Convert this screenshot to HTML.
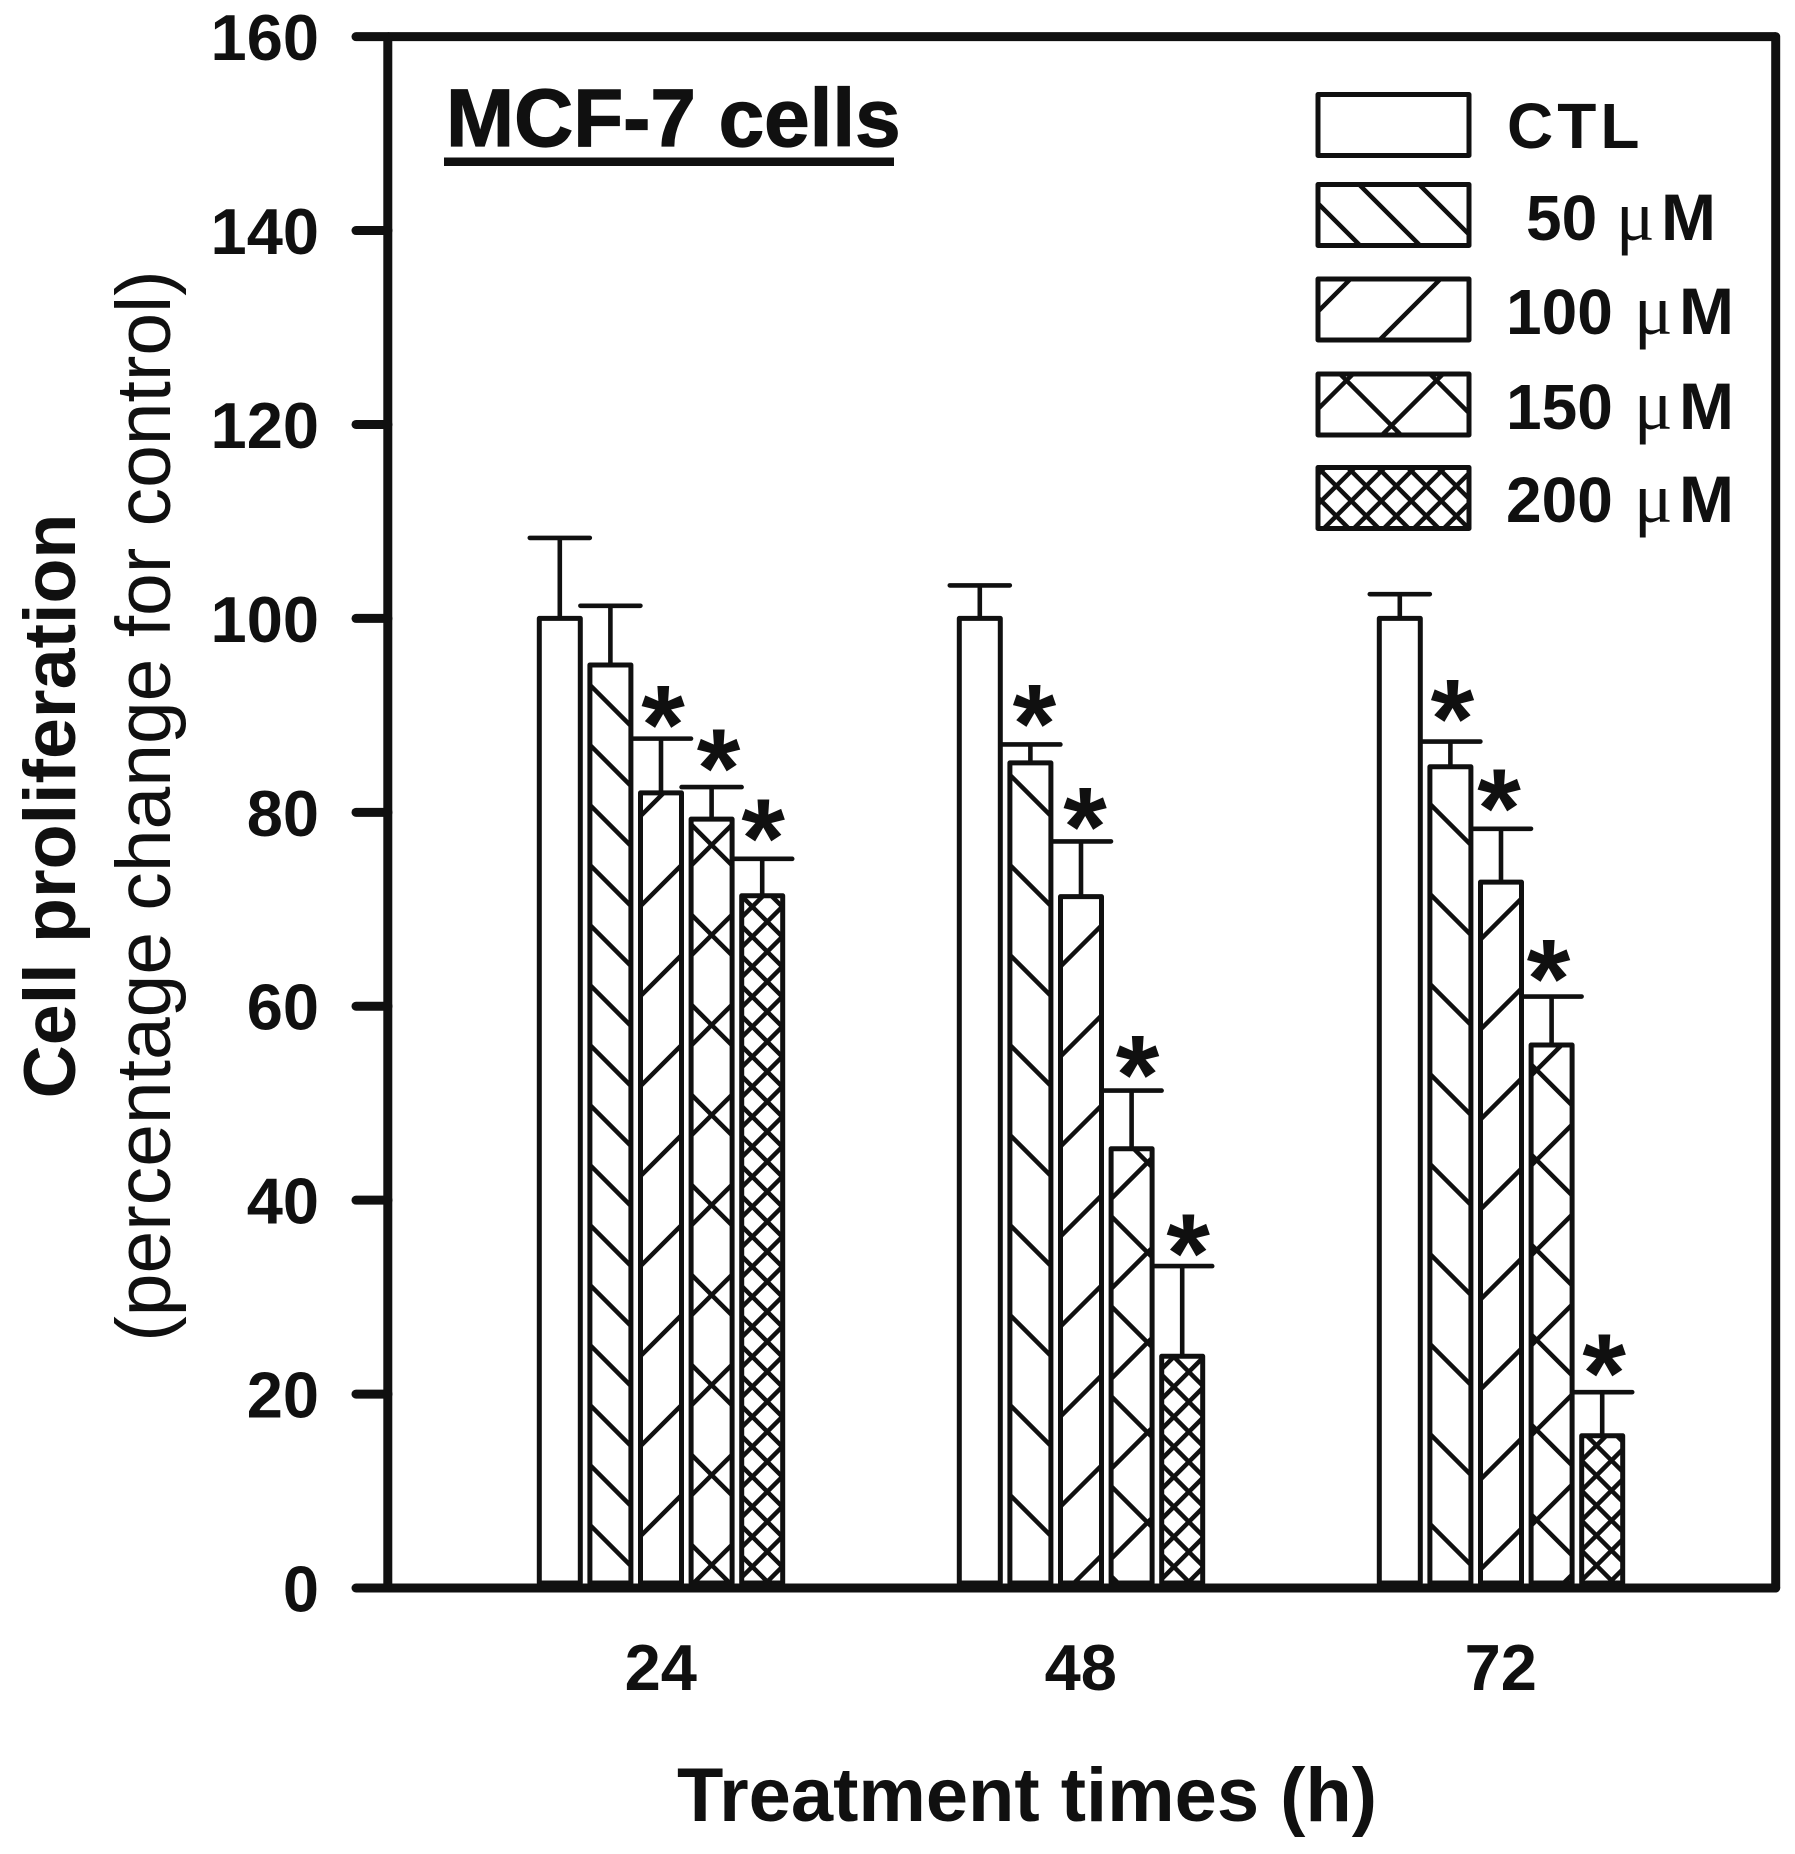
<!DOCTYPE html>
<html lang="en">
<head>
<meta charset="utf-8">
<title>MCF-7 cell proliferation</title>
<style>
html,body{margin:0;padding:0;background:#fff;}
svg{display:block;}
text{font-family:"Liberation Sans",sans-serif;fill:#101010;}
.b{font-weight:bold;}
.mu{font-family:"Liberation Serif",serif;font-weight:normal;font-size:72px;}
.m{font-size:66px;}
.leg{font-weight:bold;font-size:64px;}
</style>
</head>
<body>
<svg id="chart" xmlns="http://www.w3.org/2000/svg" width="1795" height="1854" viewBox="0 0 1795 1854">
  <defs id="defs"></defs>
  <rect x="0" y="0" width="1795" height="1854" fill="#ffffff"/>
  <g id="bars"></g>
  <g id="frame" fill="none" stroke="#101010" stroke-width="9">
    <line x1="387.8" y1="36.6" x2="387.8" y2="1588"/>
    <line x1="387.8" y1="36.6" x2="1775.7" y2="36.6"/>
    <line x1="1775.7" y1="36.6" x2="1775.7" y2="1588" stroke-linecap="round"/>
    <line x1="387.8" y1="1588" x2="1775.7" y2="1588" stroke-linecap="round"/>
  </g>
  <g id="yaxis"></g>
  <g id="xaxis"></g>

  <text class="b" x="446" y="146" font-size="81.8" stroke="#101010" stroke-width="1.2">MCF-7 cells</text>
  <rect x="444" y="157.5" width="450" height="8.5" fill="#101010"/>

  <text class="b" font-size="73.6" text-anchor="middle" transform="translate(75,806) rotate(-90)">Cell proliferation</text>
  <text font-size="76.8" text-anchor="middle" transform="translate(170,806) rotate(-90)">(percentage change for control)</text>
  <text class="b" font-size="75.9" text-anchor="middle" x="1027" y="1821">Treatment times (h)</text>

  <g id="legend">
    <g id="legend-swatches"></g>
    <text class="leg" x="1507" y="148" letter-spacing="4">CTL</text>
    <text class="leg" y="240"><tspan x="1526">50</tspan> <tspan class="mu" x="1616">μ</tspan><tspan class="m" x="1661">M</tspan></text>
    <text class="leg" y="334"><tspan x="1506">100</tspan> <tspan class="mu" x="1634">μ</tspan><tspan class="m" x="1679">M</tspan></text>
    <text class="leg" y="429"><tspan x="1506">150</tspan> <tspan class="mu" x="1634">μ</tspan><tspan class="m" x="1679">M</tspan></text>
    <text class="leg" y="522"><tspan x="1506">200</tspan> <tspan class="mu" x="1634">μ</tspan><tspan class="m" x="1679">M</tspan></text>
  </g>
</svg>
<script>
// ---- chart data ----
const categories = ['24', '48', '72'];
const yTicks = [0, 20, 40, 60, 80, 100, 120, 140, 160];
const seriesNames = ['ctl', '50um', '100um', '150um', '200um'];
const valuesCTL = [100, 100, 100];
const values50 = [95.2, 85.1, 84.7];
const values100 = [82, 71.3, 72.8];
const values150 = [79.3, 45.3, 56];
const values200 = [71.4, 23.9, 15.7];
const errorTopCTL = [108.3, 103.4, 102.5];
const errorTop50 = [101.3, 87, 87.3];
const errorTop100 = [87.6, 77, 78.3];
const errorTop150 = [82.6, 51.3, 61];
const errorTop200 = [75.2, 33.2, 20.2];
const significant50 = [false, true, true];
const significant100 = [true, true, true];
const significant150 = [true, true, true];
const significant200 = [true, true, true];

const allValues = [valuesCTL, values50, values100, values150, values200];
const allErrors = [errorTopCTL, errorTop50, errorTop100, errorTop150, errorTop200];
const allSignificant = [[false, false, false], significant50, significant100, significant150, significant200];

// ---- axis functions ----
const NS = 'http://www.w3.org/2000/svg';
const INK = '#101010';
function yPos(v) { return 1588 - v * 9.696; }
function groupX(g) { return 539.3 + g * 420; }
function barX(g, s) { return groupX(g) + s * 50.6; }
const BAR_W = 41;

function mk(tag, attrs, parent) {
  const el = document.createElementNS(NS, tag);
  for (const k in attrs) el.setAttribute(k, attrs[k]);
  parent.appendChild(el);
  return el;
}

// ---- hatch patterns: style only (period, phase of "\" lines, phase of "/" lines) ----
const hatchBySeriesGroup = [
  [null, null, null],
  [[60, 25, null], [90, 55, null], [90, 86, null]],
  [[90, null, 16.6], [90, null, 47], [90, null, 80]],
  [[90, 46.7, 26.7], [90, 75, 60], [90, 16.7, 86.7]],
  [[30, 25.6, 9], [30, 27, 10.7], [30, 1, 12]]
];
const hatchLegend = [null, [60, 34.6, null], [90, null, 9.5], [90, 66, 17], [30, 10.3, 22.3]];
const defs = document.getElementById('defs');

function hatchPattern(id, spec) {
  const p = spec[0], a = spec[1], b = spec[2];
  const pat = mk('pattern', { id: id, patternUnits: 'userSpaceOnUse', x: 0, y: 0, width: p, height: p }, defs);
  let d = '';
  for (let k = -2; k <= 2; k++) {
    if (a !== null) {
      const o = a + k * p;
      d += 'M' + (o - 6) + ',-6L' + (o + p + 6) + ',' + (p + 6);
    }
    if (b !== null) {
      const o = b + k * p;
      d += 'M' + (o + 6) + ',-6L' + (o - p - 6) + ',' + (p + 6);
    }
  }
  mk('path', { d: d, fill: 'none', stroke: INK, 'stroke-width': 4.5 }, pat);
  return 'url(#' + id + ')';
}

// ---- asterisk nudges relative to the error cap (style only) ----
const starDx = [[0,0,2,7,1],[0,4,4,6,6],[0,2,-2,-3,2]];
const starGap = [[0,0,13,18,20],[0,20,14,15,12],[0,22,20,17,18]];

// ---- bars: drawn right to left so that left neighbours cover later error caps ----
const barsRoot = document.getElementById('bars');
categories.forEach(function (cat, g) {
  const group = mk('g', {}, barsRoot);
  
  
  for (let s = seriesNames.length - 1; s >= 0; s--) {
    const x = barX(g, s);
    const cx = x + BAR_W / 2;
    const top = yPos(allValues[s][g]);
    const errY = yPos(allErrors[s][g]);

    const stem = mk('line', { x1: cx, x2: cx, y1: top, y2: errY, stroke: INK, 'stroke-width': 4.6 }, group);
    
    

    const cap = mk('line', { x1: cx - 30, x2: cx + 30, y1: errY, y2: errY, stroke: INK, 'stroke-width': 4.6, 'stroke-linecap': 'round' }, group);
    
    

    if (allSignificant[s][g]) {
      const star = mk('text', { x: cx + starDx[g][s], y: errY - starGap[g][s] + 38, 'font-size': 112, 'font-weight': 'bold', 'text-anchor': 'middle' }, group);
      
      
      star.textContent = '*';
    }

    const h = yPos(0) - 5 - top;
    const fill = mk('rect', { x: x, y: top, width: BAR_W, height: h, fill: '#ffffff' }, group);
    
    

    const spec = hatchBySeriesGroup[s][g];
    const bar = mk('rect', {
      x: x, y: top, width: BAR_W, height: h,
      fill: spec ? hatchPattern('h' + s + '-' + g, spec) : 'none',
      stroke: INK, 'stroke-width': 5, 'stroke-linejoin': 'round'
    }, group);
    
    
  }
});

// ---- y axis ----
const yRoot = document.getElementById('yaxis');
yTicks.forEach(function (t) {
  const y = yPos(t);
  const tick = mk('line', { x1: 356, x2: 388, y1: y, y2: y, stroke: INK, 'stroke-width': 9, 'stroke-linecap': 'round' }, yRoot);
  
  
  const label = mk('text', { x: 319, y: y + 23.5, 'font-size': 65, 'font-weight': 'bold', 'text-anchor': 'end' }, yRoot);
  
  
  label.textContent = String(t);
});

// ---- x axis labels ----
const xRoot = document.getElementById('xaxis');
categories.forEach(function (cat, g) {
  const label = mk('text', { x: groupX(g) + 121.5, y: 1690, 'font-size': 65, 'font-weight': 'bold', 'text-anchor': 'middle' }, xRoot);
  
  
  label.textContent = cat;
});

// ---- legend swatches ----
const swatchRoot = document.getElementById('legend-swatches');
const swatchTop = [94.5, 184.5, 279, 374, 467.5];
seriesNames.forEach(function (name, s) {
  const spec = hatchLegend[s];
  const sw = mk('rect', {
    x: 1318, y: swatchTop[s], width: 151, height: 61,
    fill: spec ? hatchPattern('leg' + s, spec) : '#ffffff',
    stroke: INK, 'stroke-width': 5, 'stroke-linejoin': 'round'
  }, swatchRoot);
  
  
});
</script>
</body>
</html>
